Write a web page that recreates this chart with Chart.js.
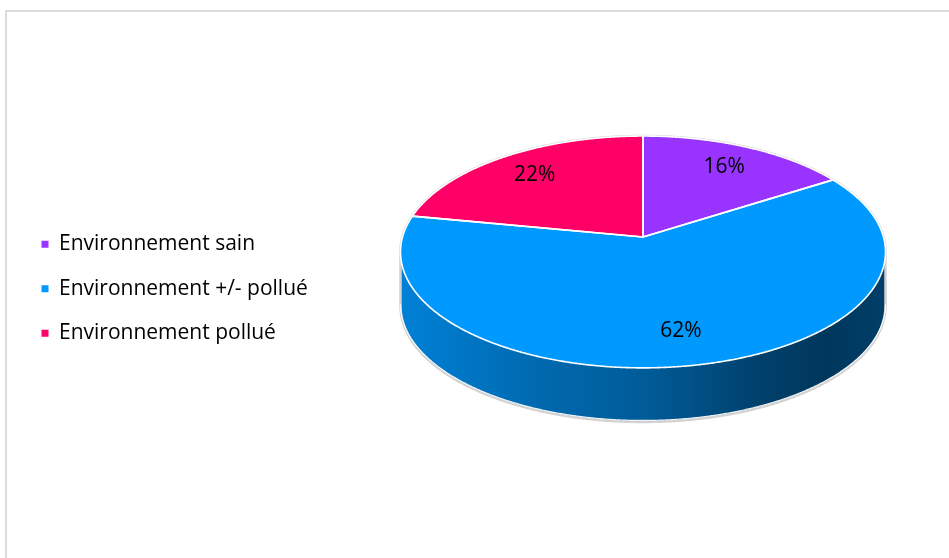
<!DOCTYPE html>
<html><head><meta charset="utf-8">
<script src="https://cdn.jsdelivr.net/npm/chart.js@4.4.0/dist/chart.umd.min.js"></script>
<style>
html,body{margin:0;padding:0;background:#fff;overflow:hidden;width:949px;height:558px;}
#frame{position:absolute;left:5px;top:10px;width:980px;height:600px;border-left:2px solid #dcdcdc;border-top:2px solid #dcdcdc;box-sizing:border-box;}
#c{position:absolute;left:0;top:0;}
</style></head><body>
<div id="frame"></div>
<canvas id="c" width="1000" height="558"></canvas>
<script>
// ---- data ----
const categories = ['Environnement sain', 'Environnement +/- pollué', 'Environnement pollué'];
const values = [16, 62, 22];
const sliceColors = ['#9933FF', '#0099FF', '#FF0066'];

// ---- 3D look (style constants) ----
const TILT = 0.478;        // vertical squash of the top face
const PERSP = 0.129;       // perspective shift of the centre
const DEPTH = 0.223;       // side thickness relative to radius
const LABEL_R = 0.76;
const SIDE_SHADE = [[0, 0.84], [0.3, 0.68], [0.5, 0.6], [0.75, 0.42], [0.88, 0.36], [1, 0.41]];

const FONT = 'Open Sans';
const LEGEND_FONT_SIZE = 21;
const LEGEND_PAD = 23.5;
const LEGEND_LEFT = 18;
const PIE_CX = 643;
const CANVAS_W = 1000;

function shade(hex, f) {
  const n = parseInt(hex.slice(1), 16);
  const r = (n >> 16) & 255, g = (n >> 8) & 255, b = n & 255;
  return 'rgb(' + Math.round(r * f) + ',' + Math.round(g * f) + ',' + Math.round(b * f) + ')';
}

const pie3d = {
  id: 'pie3d',
  beforeDatasetsDraw(chart) {
    const ctx = chart.ctx;
    const arcs = chart.getDatasetMeta(0).data;
    const p0 = arcs[0].getProps(['x', 'y', 'outerRadius'], true);
    const cx = p0.x, apexY = p0.y, A = p0.outerRadius;
    const B = A * TILT;
    const c = -PERSP;
    const ecy = apexY - B * c;
    const D = A * DEPTH;
    const k = A * Math.sqrt(1 - c * c);
    const P = (a, r, dy) => {
      const u = r * Math.cos(a), v = r * Math.sin(a), w = 1 + c * v;
      return [cx + k * u / w, ecy + B * (v + c) / w + (dy || 0)];
    };
    const rim = (a0, a1, dy, move) => {
      const n = Math.max(2, Math.ceil(Math.abs(a1 - a0) / 0.005));
      for (let i = 0; i <= n; i++) {
        const pt = P(a0 + (a1 - a0) * i / n, 1, dy);
        if (i === 0 && move) ctx.moveTo(pt[0], pt[1]); else ctx.lineTo(pt[0], pt[1]);
      }
    };
    const vis0 = Math.asin(-c), vis1 = Math.PI - vis0;
    ctx.save();
    ctx.lineJoin = 'round';
    // side walls
    arcs.forEach((arc, i) => {
      const p = arc.getProps(['startAngle', 'endAngle'], true);
      const s = Math.max(p.startAngle, vis0), e = Math.min(p.endAngle, vis1);
      if (e <= s) return;
      const g = ctx.createLinearGradient(cx - A, 0, cx + A, 0);
      SIDE_SHADE.forEach(st => g.addColorStop(st[0], shade(sliceColors[i], st[1])));
      ctx.beginPath();
      rim(s, e, 0, true);
      rim(e, s, D, false);
      ctx.closePath();
      ctx.fillStyle = g;
      ctx.fill();
    });
    // silhouette outline
    ctx.beginPath();
    rim(vis1, vis0 + 2 * Math.PI, 0, true);
    rim(vis0, vis1, D, false);
    ctx.closePath();
    ctx.strokeStyle = '#d2d2d2';
    ctx.lineWidth = 2.5;
    ctx.stroke();
    ctx.beginPath();
    rim(vis0, vis1, D - 1.5, true);
    ctx.strokeStyle = 'rgba(255,255,255,0.9)';
    ctx.lineWidth = 1.2;
    ctx.stroke();
    // top faces
    arcs.forEach((arc, i) => {
      const p = arc.getProps(['startAngle', 'endAngle'], true);
      ctx.beginPath();
      ctx.moveTo(cx, apexY);
      rim(p.startAngle, p.endAngle, 0, false);
      ctx.closePath();
      ctx.fillStyle = sliceColors[i];
      ctx.fill();
    });
    arcs.forEach((arc) => {
      const p = arc.getProps(['startAngle', 'endAngle'], true);
      ctx.beginPath();
      ctx.moveTo(cx, apexY);
      rim(p.startAngle, p.endAngle, 0, false);
      ctx.closePath();
      ctx.strokeStyle = '#ffffff';
      ctx.lineWidth = 1.6;
      ctx.stroke();
    });
    // labels
    const total = values.reduce((a, b) => a + b, 0);
    ctx.fillStyle = '#000';
    ctx.font = LEGEND_FONT_SIZE + 'px "' + FONT + '"';
    ctx.textAlign = 'center';
    ctx.textBaseline = 'middle';
    arcs.forEach((arc, i) => {
      const p = arc.getProps(['startAngle', 'endAngle'], true);
      const pt = P((p.startAngle + p.endAngle) / 2, LABEL_R, 0);
      ctx.fillText(Math.round(values[i] / total * 100) + '%', pt[0], pt[1]);
    });
    ctx.restore();
    return false;
  }
};

// layout: place the pie centre horizontally
const mctx = document.createElement('canvas').getContext('2d');
mctx.font = LEGEND_FONT_SIZE + 'px "' + FONT + '"';
const maxTextW = Math.max(...categories.map(t => mctx.measureText(t).width));
const legendW = LEGEND_PAD + (7 + LEGEND_FONT_SIZE / 2 + maxTextW) + 10;
const chartLeft = LEGEND_LEFT + legendW;
const padRight = Math.max(0, CANVAS_W - (2 * PIE_CX - chartLeft));

Chart.defaults.font.family = FONT;
new Chart(document.getElementById('c'), {
  type: 'pie',
  data: {
    labels: categories,
    datasets: [{ data: values, backgroundColor: sliceColors, borderWidth: 0 }]
  },
  options: {
    responsive: false,
    animation: false,
    devicePixelRatio: 1,
    radius: 242.5,
    layout: { padding: { left: LEGEND_LEFT, top: 0, bottom: 84, right: padRight } },
    plugins: {
      tooltip: { enabled: false },
      legend: {
        position: 'left',
        align: 'center',
        title: { display: true, text: '', font: { size: 12 }, padding: { top: 89, bottom: 0 } },
        labels: {
          boxWidth: 7, boxHeight: 7, padding: LEGEND_PAD, color: '#000',
          font: { size: LEGEND_FONT_SIZE, family: FONT }
        }
      }
    }
  },
  plugins: [pie3d]
});
</script>
</body></html>
